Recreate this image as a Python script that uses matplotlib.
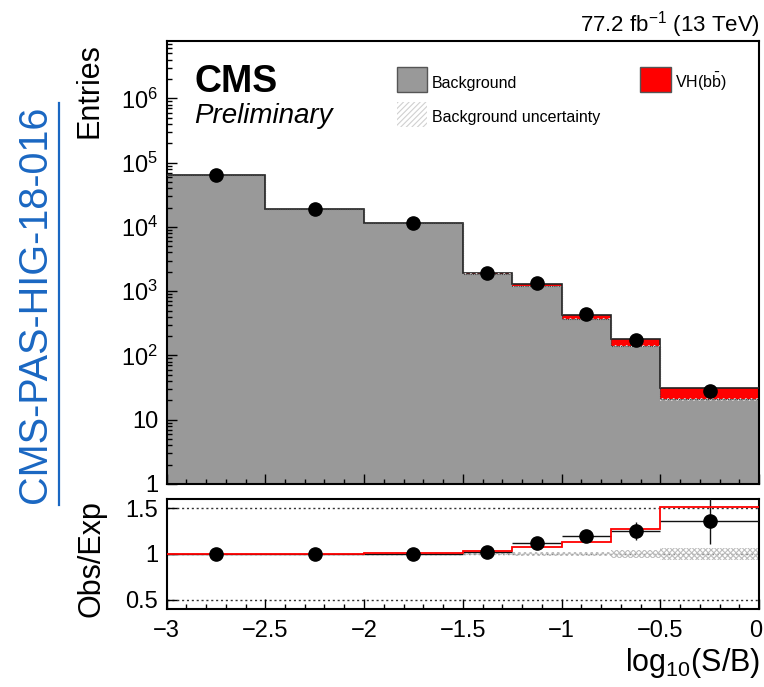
import numpy as np
import matplotlib
matplotlib.use("Agg")
import matplotlib.pyplot as plt
from matplotlib import font_manager
from matplotlib.patches import Rectangle
from matplotlib.lines import Line2D
from matplotlib.transforms import offset_copy
from matplotlib.ticker import LogLocator, FixedLocator, MultipleLocator, NullFormatter

matplotlib.rcParams['font.family'] = "Liberation Sans"
matplotlib.rcParams['mathtext.fontset'] = "custom"
matplotlib.rcParams['mathtext.rm'] = "Liberation Sans"
matplotlib.rcParams['mathtext.it'] = "Liberation Sans:italic"
matplotlib.rcParams['hatch.linewidth'] = 0.8

# binning in log10(S/B)
edges = [-3, -2.5, -2, -1.5, -1.25, -1, -0.75, -0.5, 0]
bkg = [64500, 18800, 11400, 1865, 1190, 372, 141.6, 20.8]
sig = [20, 40, 150, 70, 90, 49, 38.4, 10.7]
data = [64500, 18900, 11450, 1900, 1335, 445, 177, 28.3]
bkg_unc = [0.005, 0.005, 0.006, 0.012, 0.018, 0.025, 0.04, 0.065]

edges = np.array(edges)
bkg = np.array(bkg)
sig = np.array(sig)
data = np.array(data)
bkg_unc = np.array(bkg_unc)
centers = 0.5 * (edges[1:] + edges[:-1])
halfw = 0.5 * (edges[1:] - edges[:-1])

W, H = 764, 687
fig = plt.figure(figsize=(W / 100, H / 100), dpi=100)

def fx(x):
    return x / W

def fy(y):
    return 1 - y / H

ax = fig.add_axes([fx(166.5), fy(484), fx(759) - fx(166.5), fy(41) - fy(484)])
rax = fig.add_axes([fx(166.5), fy(609), fx(759) - fx(166.5), fy(499) - fy(609)])

# main panel
ax.stairs(bkg, edges, baseline=0.5, fill=True, color="#999999", zorder=1)
ax.stairs(bkg + sig, edges, baseline=bkg, fill=True, color="red", zorder=2)
ax.stairs(bkg + sig, edges, baseline=None, color="#222222", lw=1.2, zorder=3)
ax.stairs(bkg * (1 + bkg_unc), edges, baseline=bkg * (1 - bkg_unc), fill=False,
          hatch="//////", color="#dddddd", lw=0, zorder=4)
ax.stairs(bkg, edges, baseline=None, color="#444444", lw=0.8, ls=(0, (1, 1)), zorder=4)
ax.errorbar(centers, data, yerr=np.sqrt(data), fmt="o", color="black",
            markersize=9.5, lw=1, zorder=5)

ax.set_yscale("log")
ax.set_xlim(-3, 0)
ax.set_ylim(1, 7.8e6)
ax.yaxis.set_major_locator(FixedLocator([1, 10, 1e2, 1e3, 1e4, 1e5, 1e6]))
ax.set_yticklabels(["1", "10", "$10^{2}$", "$10^{3}$", "$10^{4}$", "$10^{5}$", "$10^{6}$"])
ax.yaxis.set_minor_locator(LogLocator(base=10, subs=np.arange(2, 10), numticks=20))
ax.yaxis.set_minor_formatter(NullFormatter())
ax.xaxis.set_major_locator(MultipleLocator(0.5))
ax.xaxis.set_minor_locator(MultipleLocator(0.1))
ax.tick_params(axis="x", labelbottom=False)

# ratio panel
ratio = data / bkg
ratio_err = np.sqrt(data) / bkg
for yl in [0.5, 1.0, 1.5]:
    rax.axhline(yl, color="#333333" if yl != 1.0 else "#888888", lw=1, ls=(0, (1.5, 2)), zorder=1)
rax.stairs(1 + bkg_unc, edges, baseline=1 - bkg_unc, fill=False, hatch="xxxxxx",
           color="#bdbdbd", lw=0, zorder=2)
rax.errorbar(centers, ratio, xerr=halfw, yerr=ratio_err, fmt="none",
             ecolor="#111111", lw=1, zorder=3)
rax.stairs((bkg + sig) / bkg, edges, baseline=None, color="red", lw=1.3, zorder=4)
rax.plot(centers, ratio, "o", color="black", markersize=9.5, zorder=5)
rax.set_xlim(-3, 0)
rax.set_ylim(0.4, 1.6)
rax.yaxis.set_major_locator(FixedLocator([0.5, 1, 1.5]))
rax.set_yticklabels(["0.5", "1", "1.5"])
rax.xaxis.set_major_locator(MultipleLocator(0.5))
rax.xaxis.set_minor_locator(MultipleLocator(0.1))
rax.set_xticks([-3, -2.5, -2, -1.5, -1, -0.5, 0])
rax.set_xticklabels(["\u22123", "\u22122.5", "\u22122", "\u22121.5", "\u22121", "\u22120.5", "0"])

for a in (ax, rax):
    a.tick_params(which="both", direction="in", labelsize=17, width=1, colors="black")
    a.tick_params(which="major", length=7)
    a.tick_params(which="minor", length=3.5)
    a.tick_params(axis="x", pad=8)
    a.tick_params(axis="y", pad=6)
    for s in a.spines.values():
        s.set_linewidth(1.5)

# keep the last x label inside the picture
last = rax.get_xticklabels()[-1]
last.set_transform(offset_copy(last.get_transform(), fig=fig, x=-3, units="dots"))

# texts
fig.text(fx(194), fy(92), "CMS", fontsize=27, fontweight="bold", va="baseline", ha="left")
fig.text(fx(194), fy(123), "Preliminary", fontsize=20, style="italic", va="baseline", ha="left")
fig.text(fx(760), fy(32), "77.2 fb$^{-1}$ (13 TeV)", fontsize=16, va="baseline", ha="right")
fig.text(fx(90), fy(43), "Entries", fontsize=22, rotation=90, ha="center", va="top")
fig.text(fx(91), fy(559), "Obs/Exp", fontsize=22, rotation=90, ha="center", va="center")
fig.text(fx(760), fy(646), "log$_{10}$(S/B)", fontsize=22, ha="right", va="top")

# legend
fig.add_artist(Rectangle((fx(397), fy(92)), fx(30), fy(67) - fy(92), transform=fig.transFigure,
                         facecolor="#999999", edgecolor="#555555", lw=1))
fig.add_artist(Rectangle((fx(640), fy(92)), fx(31), fy(67) - fy(92), transform=fig.transFigure,
                         facecolor="red", edgecolor="#555555", lw=1))
fig.add_artist(Rectangle((fx(397), fy(127)), fx(30), fy(102) - fy(127), transform=fig.transFigure,
                         facecolor="none", edgecolor="#d0d0d0", hatch="//////", lw=0))
fig.text(fx(432), fy(88), "Background", fontsize=11.5, va="baseline")
fig.text(fx(675), fy(88), r"VH(b$\bar{\mathrm{b}}$)", fontsize=11.5, va="baseline")
fig.text(fx(432), fy(122), "Background uncertainty", fontsize=11.5, va="baseline")

# document id on the left
names = {f.name for f in font_manager.fontManager.ttflist}
if "Liberation Sans Narrow" in names:
    fig.text(fx(35), fy(304), "CMS-PAS-HIG-18-016", family="Liberation Sans Narrow",
             fontsize=35, color="#1a67c2", rotation=90, ha="center", va="center")
else:
    fig.text(fx(35), fy(304), "CMS-PAS-HIG-18-016", fontsize=28.5, color="#1a67c2",
             rotation=90, ha="center", va="center")
fig.add_artist(Line2D([fx(59), fx(59)], [fy(505), fy(103)], transform=fig.transFigure,
                      color="#1a67c2", lw=1.6))

fig.savefig("out.png", dpi=100)
